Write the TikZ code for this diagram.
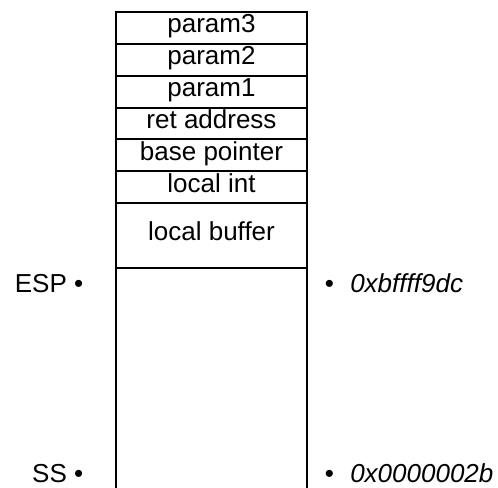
\documentclass[tikz,border=0pt]{standalone}
\usepackage{fontspec}
\setmainfont{Liberation Sans}
\usepackage{tikz}
\usetikzlibrary{positioning}

\begin{document}
\begin{tikzpicture}[
    x=0.75pt, y=0.75pt,
    cell/.style={
        rectangle, draw, line width=1.5pt, outer sep=0pt, inner sep=0pt,
        minimum width=143.25pt, minimum height=23.9pt,
        text height=0.72em, text depth=0pt,
        font=\fontsize{19.5}{23}\selectfont
    },
    lbl/.style={inner sep=0pt, font=\fontsize{19.5}{23}\selectfont}
]
\useasboundingbox (0,0) rectangle (498,-487);

% Stack frame
\node[cell, anchor=north] (p3) at (211.5,-12) {param3};
\node[cell, below=0pt of p3] (p2) {param2};
\node[cell, below=0pt of p2] (p1) {param1};
\node[cell, below=0pt of p1] (ret) {ret address};
\node[cell, below=0pt of ret] (bp) {base pointer};
\node[cell, below=0pt of bp] (lint) {local int};
\node[cell, below=0pt of lint, minimum height=48.75pt] (lbuf) {local buffer};

% Free stack below ESP
\coordinate (botL) at (lbuf.south west |- 0,-490);
\coordinate (botR) at (lbuf.south east |- 0,-490);
\draw[line width=1.5pt] (lbuf.south west) -- (botL);
\draw[line width=1.5pt] (lbuf.south east) -- (botR);

% Registers
\node[lbl, anchor=base east] (esp) at (83.5,-292) {ESP •};
\node[lbl, anchor=base east] (ss)  at (83.5,-482.5) {SS •};

% Addresses
\node[lbl, anchor=base west] (espaddr) at (324.5,-292) {•\hspace{12.3pt}\itshape 0xbffff9dc};
\node[lbl, anchor=base west] (ssaddr)  at (324.5,-482.5) {•\hspace{12.3pt}\itshape 0x0000002b};

\end{tikzpicture}
\end{document}
